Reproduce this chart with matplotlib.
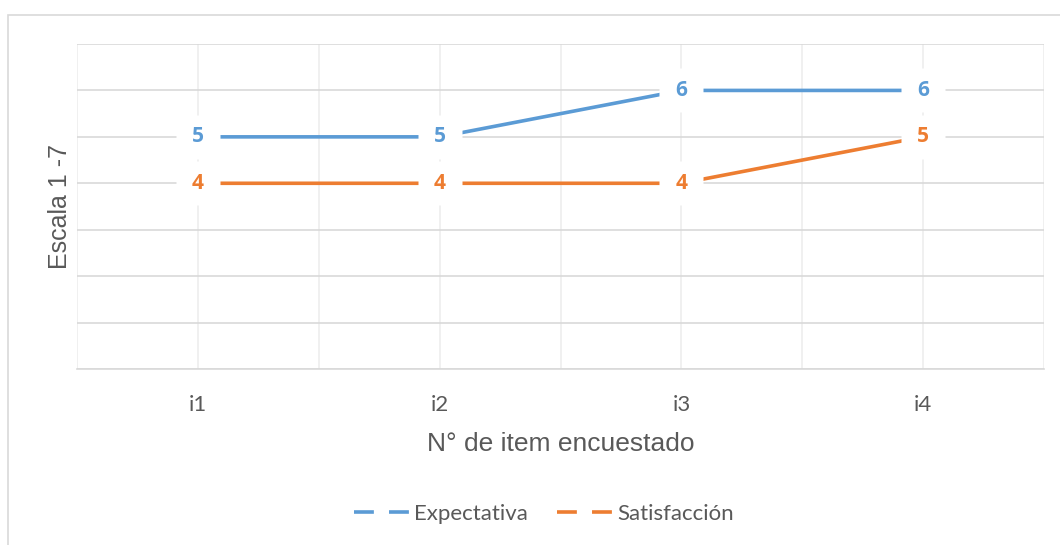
import matplotlib.pyplot as plt
from matplotlib.patches import Rectangle
from matplotlib.lines import Line2D

# datos
items = ['i1', 'i2', 'i3', 'i4']
expectativa = [5, 5, 6, 6]
satisfaccion = [4, 4, 4, 5]

azul = '#5B9BD5'
naranja = '#ED7D31'
grid_c = '#D9D9D9'
texto_c = '#595959'

W, H = 1060, 545
fig = plt.figure(figsize=(W / 100, H / 100), dpi=100, facecolor='white')

# marco del gráfico (solo se ven los bordes superior e izquierdo)
fig.patches.append(Rectangle((8 / W, -0.2), 1.2, 1.2 - 15 / H, transform=fig.transFigure,
                             fill=False, edgecolor=grid_c, linewidth=1.2))

ax = fig.add_axes([77 / W, 1 - 369 / H, (1044 - 77) / W, (369 - 44) / H])
x = list(range(len(items)))

for serie, col in [(expectativa, azul), (satisfaccion, naranja)]:
    ax.plot(x, serie, color=col, linewidth=2.6, solid_capstyle='butt', zorder=3)

# fondo blanco de las etiquetas de datos
for serie in [expectativa, satisfaccion]:
    ax.plot(x, serie, 's', ms=32, mfc='white', mec='none', zorder=4)

for serie, col in [(expectativa, azul), (satisfaccion, naranja)]:
    for xi, v in zip(x, serie):
        ax.text(xi, v, str(v), ha='center', va='center', color=col, fontsize=15,
                fontweight='bold', family=['Open Sans', 'DejaVu Sans'], zorder=5)

ax.set_xlim(-0.5, 3.5)
ax.set_ylim(0, 7)
ax.set_xticks(x)
ax.set_xticklabels(items, fontsize=16, color=texto_c, family=['Lato', 'DejaVu Sans'])
ax.set_xticks([i - 0.5 for i in range(5)], minor=True)
ax.set_yticks(range(8))
ax.set_yticklabels([])
ax.tick_params(axis='both', which='both', length=0)
ax.tick_params(axis='x', pad=19)
ax.grid(True, axis='x', which='both', color='#EEEEEE', linewidth=1.2)
ax.grid(True, axis='y', which='major', color=grid_c, linewidth=1.2)
ax.set_axisbelow(True)
for s in ['top', 'right', 'left']:
    ax.spines[s].set_visible(False)
ax.spines['bottom'].set_color(grid_c)
ax.spines['bottom'].set_linewidth(1.2)

ax.set_xlabel('N° de item encuestado', fontsize=19, color=texto_c,
              family=['Liberation Sans', 'DejaVu Sans'], labelpad=12)
ax.set_ylabel('Escala 1 -7', fontsize=18, color=texto_c,
              family=['Liberation Sans', 'DejaVu Sans'], labelpad=0)

handles = [Line2D([], [], color=azul, linewidth=2.6, dashes=(5.5, 4.2)),
           Line2D([], [], color=naranja, linewidth=2.6, dashes=(5.5, 4.2))]
fig.legend(handles, ['Expectativa', 'Satisfacción'], loc='center', ncol=2,
           bbox_to_anchor=(544 / W, 1 - 514 / H), frameon=False, handlelength=2.5,
           handletextpad=0.2, columnspacing=1.3,
           prop={'family': ['Lato', 'DejaVu Sans'], 'size': 16},
           labelcolor=texto_c)

fig.savefig('out.png', dpi=100, facecolor='white')
